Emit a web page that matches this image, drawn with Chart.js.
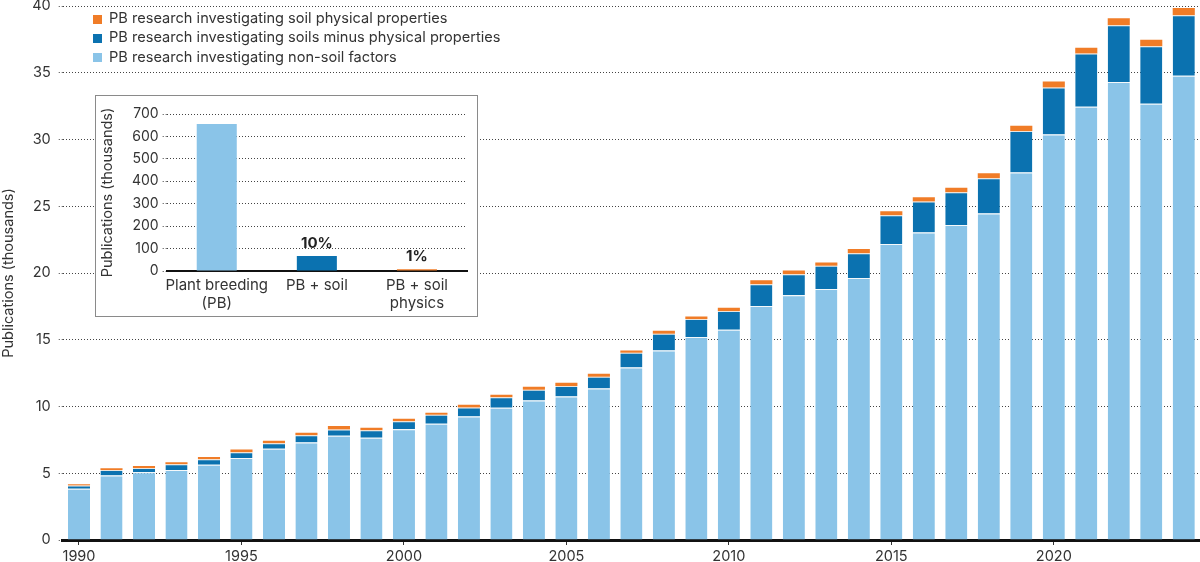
<!DOCTYPE html>
<html>
<head>
<meta charset="utf-8">
<script src="https://cdn.jsdelivr.net/npm/chart.js@4/dist/chart.umd.min.js"></script>
<style>
  body { margin: 0; background: #fff; font-family: Inter, 'Noto Sans', sans-serif; }
  #wrap { position: relative; width: 1200px; height: 562px; }
  #legend { position: absolute; left: 93px; top: 9px; font-size: 14.6px; color: #333; }
  #legend div { height: 19.3px; line-height: 19.3px; white-space: nowrap; }
  #legend span { display: inline-block; width: 9px; height: 9px; margin-right: 7px; vertical-align: -0.5px; }
  #inset { position: absolute; left: 95px; top: 95px; width: 383px; height: 222px;
           box-sizing: border-box; border: 1px solid #8a8a8a; background: #fff; }
</style>
</head>
<body>
<div id="wrap">
  <canvas id="main" width="1200" height="562"></canvas>
  <div id="legend"></div>
  <div id="inset"><canvas id="sub" width="381" height="220"></canvas></div>
</div>
<script>
// Main chart data (thousands of publications per year)
const years = [];
for (let y = 1990; y <= 2024; y++) years.push(String(y));

const nonSoil = [3.83, 4.83, 5.08, 5.25, 5.63, 6.15, 6.83, 7.3, 7.8, 7.65,
  8.3, 8.7, 9.25, 9.9, 10.45, 10.75, 11.35, 12.93, 14.2, 15.2,
  15.75, 17.53, 18.33, 18.8, 19.63, 22.18, 23.03, 23.6, 24.45, 27.53,
  30.38, 32.45, 34.3, 32.68, 34.78];
const soilMinusPhys = [0.25, 0.42, 0.32, 0.43, 0.42, 0.43, 0.42, 0.55, 0.48, 0.58,
  0.6, 0.68, 0.68, 0.8, 0.8, 0.78, 0.88, 1.1, 1.25, 1.35,
  1.4, 1.62, 1.57, 1.75, 1.85, 2.15, 2.32, 2.45, 2.65, 3.1,
  3.52, 4.0, 4.25, 4.3, 4.52];
const soilPhys = [0.1, 0.12, 0.15, 0.15, 0.17, 0.2, 0.18, 0.18, 0.25, 0.17,
  0.18, 0.15, 0.2, 0.18, 0.23, 0.25, 0.22, 0.17, 0.23, 0.2,
  0.25, 0.3, 0.28, 0.23, 0.32, 0.3, 0.33, 0.33, 0.38, 0.4,
  0.45, 0.43, 0.53, 0.5, 0.55];

const seriesLabels = [
  'PB research investigating soil physical properties',
  'PB research investigating soils minus physical properties',
  'PB research investigating non-soil factors',
];

// Inset data (totals, thousands)
const insetCats = [['Plant breeding', '(PB)'], 'PB + soil', ['PB + soil', 'physics']];
const insetVals = [655, 67, 8];
const insetPct = ['', '10%', '1%'];

const LIGHT = '#8ac4e8', DARK = '#0b72b0', ORANGE = '#f07c27';
const TEXT = '#333';
const FONT = "Inter, 'Noto Sans', sans-serif";
const DOTS = [1, 2];

Chart.defaults.font.family = FONT;
Chart.defaults.color = TEXT;

// legend
const legendEl = document.getElementById('legend');
[ORANGE, DARK, LIGHT].forEach((c, i) => {
  const d = document.createElement('div');
  d.innerHTML = `<span style="background:${c}"></span>${seriesLabels[i]}`;
  legendEl.appendChild(d);
});

const sep = { top: 1, right: 0, bottom: 0, left: 0 };

new Chart(document.getElementById('main'), {
  type: 'bar',
  data: {
    labels: years,
    datasets: [
      { label: seriesLabels[2], data: nonSoil, backgroundColor: LIGHT, borderColor: '#f4f8fa', borderWidth: sep, borderSkipped: false },
      { label: seriesLabels[1], data: soilMinusPhys, backgroundColor: DARK, borderColor: '#e9e4dc', borderWidth: sep, borderSkipped: false },
      { label: seriesLabels[0], data: soilPhys, backgroundColor: ORANGE, borderWidth: 0 },
    ],
  },
  options: {
    responsive: false,
    animation: false,
    layout: { padding: { top: 6, right: 0, left: 0, bottom: 0 } },
    plugins: { legend: { display: false }, tooltip: { enabled: false } },
    datasets: { bar: { barPercentage: 0.68, categoryPercentage: 1 } },
    scales: {
      x: {
        stacked: true,
        afterFit: s => { s.height = 22; s.paddingLeft = 0; s.paddingRight = 0; },
        border: { display: true, color: '#111', width: 3 },
        grid: {
          offset: false, drawOnChartArea: false, tickLength: 5,
          color: ctx => (ctx.index % 5 === 0 ? '#333' : 'rgba(0,0,0,0)'),
        },
        ticks: {
          autoSkip: false, maxRotation: 0, padding: 3,
          font: { size: 14.5 }, color: TEXT,
          callback: (v, i) => (i % 5 === 0 ? years[i] : ''),
        },
      },
      y: {
        stacked: true, min: 0, max: 40,
        afterFit: s => { s.width = 62.75; s.paddingTop = 0; s.paddingBottom = 0; },
        border: { display: false, dash: DOTS },
        grid: { color: '#444', lineWidth: 1, tickLength: 4, tickBorderDash: DOTS },
        ticks: { stepSize: 5, padding: 8, font: { size: 14.5 }, color: TEXT },
        title: { display: true, text: 'Publications (thousands)', font: { size: 14.5 }, color: TEXT, padding: { top: 0, bottom: 0 } },
      },
    },
  },
});

// percentage labels above inset bars
const pctPlugin = {
  id: 'pct',
  afterDatasetsDraw(chart) {
    const ctx = chart.ctx;
    const meta = chart.getDatasetMeta(0);
    ctx.save();
    ctx.font = `bold 15px ${FONT}`;
    ctx.fillStyle = '#222';
    ctx.textAlign = 'center';
    ctx.textBaseline = 'bottom';
    meta.data.forEach((bar, i) => {
      if (insetPct[i]) ctx.fillText(insetPct[i], bar.x, bar.y - 5);
    });
    ctx.restore();
  },
};

new Chart(document.getElementById('sub'), {
  type: 'bar',
  data: {
    labels: insetCats,
    datasets: [{ data: insetVals, backgroundColor: [LIGHT, DARK, ORANGE], barPercentage: 0.4, categoryPercentage: 1 }],
  },
  plugins: [pctPlugin],
  options: {
    responsive: false,
    animation: false,
    layout: { padding: { top: 18, right: 10, left: 0, bottom: 0 } },
    plugins: { legend: { display: false }, tooltip: { enabled: false } },
    scales: {
      x: {
        afterFit: s => { s.height = 45; s.paddingLeft = 0; s.paddingRight = 0; },
        border: { display: true, color: '#111', width: 2 },
        grid: { display: false },
        ticks: { autoSkip: false, maxRotation: 0, padding: -3, font: { size: 15, lineHeight: 1.2 }, color: TEXT },
      },
      y: {
        min: 0, max: 700,
        afterFit: s => { s.width = 70.7; s.paddingTop = 0; s.paddingBottom = 0; },
        border: { display: false, dash: DOTS },
        grid: { color: '#444', lineWidth: 1, tickLength: 4, tickBorderDash: DOTS },
        ticks: { stepSize: 100, padding: 4, font: { size: 14 }, color: TEXT },
        title: { display: true, text: 'Publications (thousands)', font: { size: 14.5 }, color: TEXT, padding: { top: 3, bottom: 0 } },
      },
    },
  },
});
</script>
</body>
</html>
